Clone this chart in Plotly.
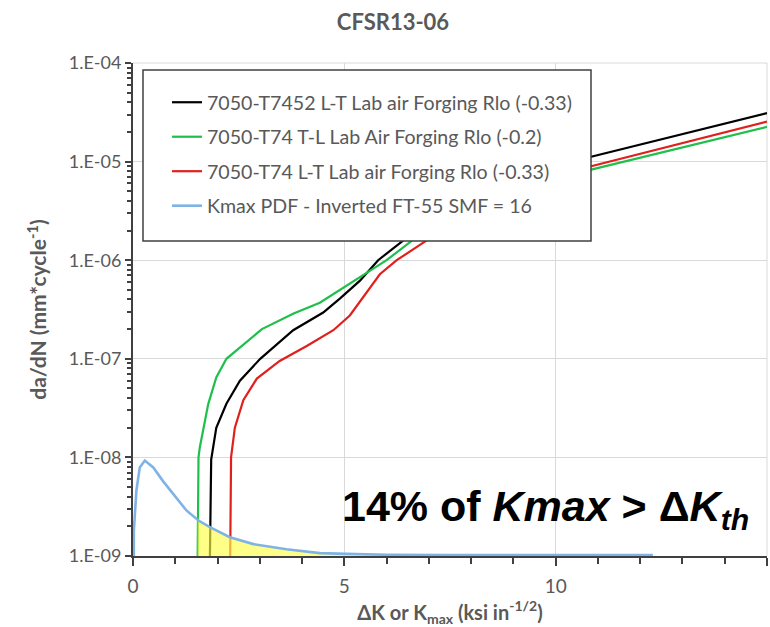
import numpy as np
import plotly.graph_objects as go

# ---------------- data ----------------
black_name = "7050-T7452 L-T Lab air Forging Rlo (-0.33)"
black_x = [1.82, 1.83, 1.85, 1.97, 2.21, 2.53, 3.01, 3.79, 4.50, 4.90, 5.37, 5.80, 6.39, 7.5, 9.0, 10.84, 15.0]
black_y = [1.0e-9, 3.0e-9, 9.5e-9, 2.0e-8, 3.5e-8, 6.0e-8, 1.0e-7, 1.95e-7, 2.95e-7, 4.1e-7, 6.2e-7,
           1.0e-6, 1.58e-6, 2.88e-6, 5.6e-6, 1.12e-5, 3.1e-5]

green_name = "7050-T74 T-L Lab Air Forging Rlo (-0.2)"
green_x = [1.53, 1.54, 1.55, 1.58, 1.78, 1.97, 2.21, 3.05, 3.80, 4.42, 5.06, 5.68, 6.0, 6.6, 7.5, 9.0, 10.84, 15.0]
green_y = [1.0e-9, 4.0e-9, 1.0e-8, 1.26e-8, 3.47e-8, 6.46e-8, 1.0e-7, 2.0e-7, 2.88e-7, 3.7e-7, 5.5e-7,
           8.1e-7, 1.0e-6, 1.58e-6, 2.43e-6, 4.45e-6, 8.3e-6, 2.25e-5]

red_name = "7050-T74 L-T Lab air Forging Rlo (-0.33)"
red_x = [2.30, 2.31, 2.32, 2.41, 2.61, 2.93, 3.47, 4.11, 4.74, 5.13, 5.45, 5.84, 6.24, 6.94, 8.0, 9.3, 10.84, 15.0]
red_y = [1.0e-9, 3.16e-9, 1.0e-8, 2.0e-8, 3.8e-8, 6.3e-8, 9.5e-8, 1.35e-7, 1.95e-7, 2.75e-7, 4.27e-7,
         7.2e-7, 1.0e-6, 1.58e-6, 2.75e-6, 4.9e-6, 8.97e-6, 2.54e-5]

pdf_name = "Kmax PDF - Inverted FT-55 SMF = 16"
pdf_x = [0.02, 0.02, 0.08, 0.16, 0.28, 0.48, 0.71, 0.95, 1.27, 1.55, 1.83, 2.29, 2.85, 3.63, 4.42, 5.05,
         6.0, 7.4, 9.0, 10.5, 12.3]
pdf_y = [1.0e-9, 1.8e-9, 4.6e-9, 7.9e-9, 9.3e-9, 7.9e-9, 5.75e-9, 4.27e-9, 2.88e-9, 2.29e-9, 1.95e-9,
         1.55e-9, 1.32e-9, 1.17e-9, 1.07e-9, 1.05e-9, 1.03e-9, 1.025e-9, 1.022e-9, 1.02e-9, 1.02e-9]

shade_from = 1.53   # Kth (lowest threshold)
shade_to = 7.4
y_floor = 1.0e-9

x_range = [0, 15]
y_range_log = [-9, -4]
y_tickvals = [1e-9, 1e-8, 1e-7, 1e-6, 1e-5, 1e-4]
y_ticktext = ["1.E-09", "1.E-08", "1.E-07", "1.E-06", "1.E-05", "1.E-04"]
x_tickvals = [0, 5, 10, 15]

# ---------------- shaded area under the PDF ----------------
px_arr = np.array(pdf_x[1:])
py_log = np.log10(np.array(pdf_y[1:]))
inner = [(x, y) for x, y in zip(pdf_x[1:], pdf_y[1:]) if shade_from < x < shade_to]
y_a = 10 ** np.interp(shade_from, px_arr, py_log)
y_b = 10 ** np.interp(shade_to, px_arr, py_log)
fill_x = [shade_from] + [p[0] for p in inner] + [shade_to, shade_to, shade_from, shade_from]
fill_y = [y_a] + [p[1] for p in inner] + [y_b, y_floor, y_floor, y_a]

# ---------------- figure ----------------
W, H = 770, 627
ML, MR, MT, MB = 133, 3, 63, 71
PW, PH = W - ML - MR, H - MT - MB

def px2x(p):
    return (p - ML) / PW

def py2y(p):
    return 1 - (p - MT) / PH

fig = go.Figure()
fig.add_trace(go.Scatter(x=black_x, y=black_y, mode="lines", name=black_name, legendgroup="a",
                         line=dict(color="#000000", width=2.2)))
fig.add_trace(go.Scatter(x=green_x, y=green_y, mode="lines", name=green_name, legendgroup="b",
                         line=dict(color="#1fbf4c", width=2.2)))
fig.add_trace(go.Scatter(x=red_x, y=red_y, mode="lines", name=red_name, legendgroup="c",
                         line=dict(color="#e0201c", width=2.2)))
fig.add_trace(go.Scatter(x=fill_x, y=fill_y, mode="lines", fill="toself", showlegend=False,
                         fillcolor="rgba(255,255,70,0.65)", line=dict(width=0), hoverinfo="skip"))
fig.add_trace(go.Scatter(x=pdf_x, y=pdf_y, mode="lines", name=pdf_name, legendgroup="d",
                         line=dict(color="#7fb3e6", width=2.6)))

fnt = "Lato, 'Open Sans', sans-serif"
grey = "#595959"
axc = "#404040"

fig.update_layout(
    template="none",
    width=W, height=H,
    margin=dict(l=ML, r=MR, t=MT, b=MB),
    paper_bgcolor="white", plot_bgcolor="white",
    font=dict(family=fnt, color=grey, size=18),
    title=dict(text="<b>CFSR13-06</b>", x=393 / W, xref="container", xanchor="center",
               y=1 - 22 / H, yref="container", yanchor="middle",
               font=dict(family=fnt, size=22, color=grey)),
    showlegend=True,
    legend=dict(x=px2x(167), y=py2y(83), xanchor="left", yanchor="top",
                bgcolor="rgba(0,0,0,0)", borderwidth=0, tracegroupgap=6,
                font=dict(family=fnt, size=19.6, color=grey), traceorder="grouped"),
    xaxis=dict(range=x_range, tickmode="array", tickvals=x_tickvals, showgrid=True,
               gridcolor="#d9d9d9", gridwidth=1,
               zeroline=False, showline=True, linecolor=axc, linewidth=2,
               ticks="outside", ticklen=8, tickwidth=2, tickcolor=axc,
               ticklabelstandoff=4,
               tickfont=dict(family=fnt, size=19, color=grey),
               minor=dict(tickmode="linear", tick0=0, dtick=1, ticks="outside", ticklen=6,
                          tickwidth=2, tickcolor=axc, showgrid=False),
               title=dict(text="<b>ΔK or K<sub>max</sub> (ksi in<sup>-1/2</sup>)</b>", standoff=12,
                          font=dict(family=fnt, size=20, color=grey)),
               automargin=False),
    yaxis=dict(type="log", range=y_range_log, tickmode="array", tickvals=y_tickvals, ticktext=y_ticktext,
               ticksuffix="\u00a0\u2009",
               showgrid=True, gridcolor="#d9d9d9", gridwidth=1, zeroline=False,
               showline=True, linecolor=axc, linewidth=2,
               ticks="outside", ticklen=6, tickwidth=2, tickcolor=axc,
               tickfont=dict(family=fnt, size=18, color=grey),
               minor=dict(dtick="D1", ticks="outside", ticklen=4, tickwidth=1.5, tickcolor=axc,
                          showgrid=False),
               title=dict(text="<b>da/dN (mm*cycle<sup>-1</sup>)</b>", standoff=16,
                          font=dict(family=fnt, size=21, color=grey)),
               automargin=False),
    shapes=[
        dict(type="line", xref="paper", yref="paper", x0=0, x1=1, y0=1, y1=1,
             line=dict(color="#d9d9d9", width=1), layer="below"),
        dict(type="line", xref="paper", yref="paper", x0=1, x1=1, y0=0, y1=1,
             line=dict(color="#d9d9d9", width=1), layer="below"),
        dict(type="rect", xref="paper", yref="paper",
             x0=px2x(143), x1=px2x(591), y0=py2y(241), y1=py2y(70),
             fillcolor="white", line=dict(color="#404040", width=1.5), layer="above")],
    annotations=[dict(text="<b>14% of <i>Kmax</i> > Δ<i>K</i><sub><i>th</i></sub></b>",
                      xref="paper", yref="paper", x=px2x(340), y=py2y(509),
                      xanchor="left", yanchor="middle", showarrow=False,
                      font=dict(family="'Liberation Sans', Arial, sans-serif", size=43, color="black"))],
)

fig.write_html("out.html", config={"displayModeBar": False},
               post_script="document.body.style.margin='0px';document.body.style.padding='0px';")
